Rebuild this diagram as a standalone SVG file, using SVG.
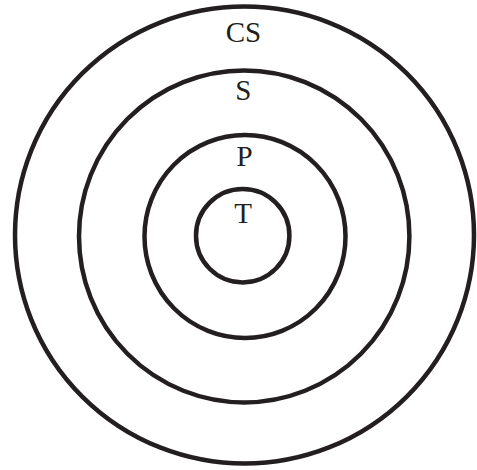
<svg xmlns="http://www.w3.org/2000/svg" width="477" height="470" viewBox="0 0 477 470">
<style>
.ring{fill:none;stroke:#231f20;stroke-width:4.5}
.lbl{font-family:"Liberation Serif","Times New Roman",serif;font-size:29px;fill:#231f20;text-anchor:middle}
</style>
<rect width="477" height="470" fill="#fff"/>
<g id="CS"><ellipse class="ring" cx="244.5" cy="235" rx="229.5" ry="228.5"/><text class="lbl" x="243.5" y="41.5">CS</text></g>
<g id="S"><ellipse class="ring" cx="244.2" cy="236.4" rx="165.2" ry="166"/><text class="lbl" x="243.3" y="100">S</text></g>
<g id="P"><ellipse class="ring" cx="245" cy="236.5" rx="100.5" ry="101.5"/><text class="lbl" x="244.5" y="166">P</text></g>
<g id="T"><circle class="ring" cx="242.7" cy="235.7" r="46.7"/><text class="lbl" x="243" y="223">T</text></g>
<g id="connectors"/>
</svg>
